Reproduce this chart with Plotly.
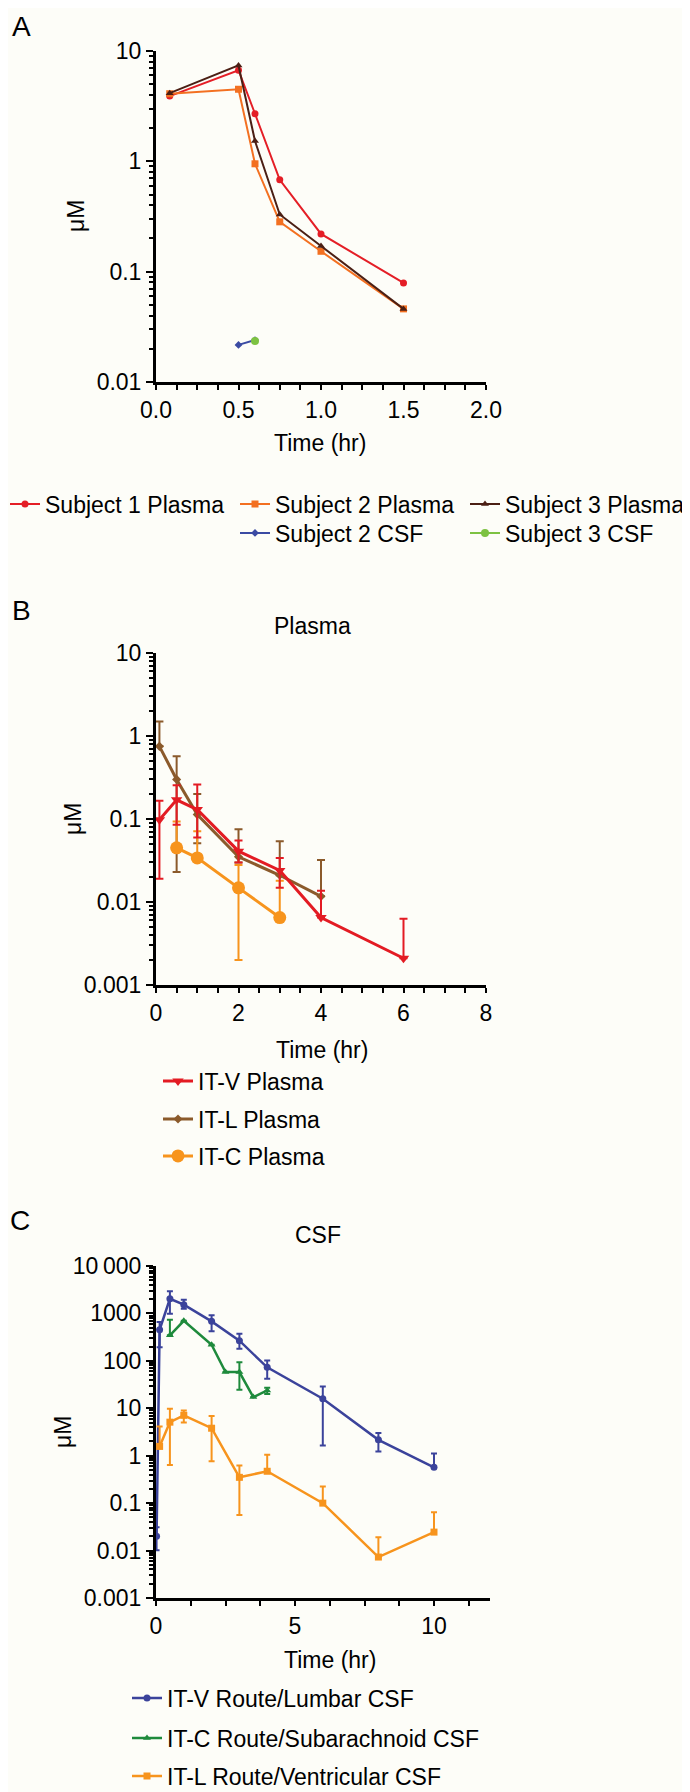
import plotly.graph_objects as go

W, H = 690, 1792
FONT = "Liberation Sans, Arial, Helvetica, sans-serif"
FS = 23

# ---------------- Panel A data ----------------
a_time = [0.083, 0.5, 0.6, 0.75, 1.0, 1.5]
a_s1_plasma = [3.9, 6.7, 2.7, 0.68, 0.22, 0.079]
a_s2_plasma = [4.1, 4.5, 0.95, 0.283, 0.153, 0.046]
a_s3_plasma = [4.15, 7.4, 1.53, 0.33, 0.171, 0.046]
a_s2_csf_time = [0.5, 0.6]
a_s2_csf = [0.0217, 0.024]
a_s3_csf_time = [0.6]
a_s3_csf = [0.0235]
a_xticks = [0, 0.5, 1.0, 1.5, 2.0]
a_xticktext = ["0.0", "0.5", "1.0", "1.5", "2.0"]
a_yticks = [0.01, 0.1, 1, 10]
a_yticktext = ["0.01", "0.1", "1", "10"]

# ---------------- Panel B data ----------------
b_itv_t = [0.083, 0.5, 1, 2, 3, 4, 6]
b_itv = [0.098, 0.17, 0.13, 0.041, 0.024, 0.0065, 0.0021]
b_itv_hi = [0.166, 0.255, 0.26, 0.055, 0.034, 0.0137, 0.0063]
b_itv_lo = [0.019, 0.085, 0.06, 0.03, 0.0148, None, None]
b_itl_t = [0.083, 0.5, 1, 2, 3, 4]
b_itl = [0.75, 0.30, 0.113, 0.035, 0.021, 0.0117]
b_itl_hi = [1.5, 0.57, 0.2, 0.075, 0.054, 0.032]
b_itl_lo = [None, 0.023, 0.051, 0.03, None, None]
b_itc_t = [0.5, 1, 2, 3]
b_itc = [0.045, 0.034, 0.0148, 0.0065]
b_itc_hi = [0.093, 0.071, 0.028, 0.018]
b_itc_lo = [None, None, 0.002, None]
b_xticks = [0, 2, 4, 6, 8]
b_yticks = [0.001, 0.01, 0.1, 1, 10]
b_yticktext = ["0.001", "0.01", "0.1", "1", "10"]

# ---------------- Panel C data ----------------
c_itv_t = [0.02, 0.13, 0.5, 1, 2, 3, 4, 6, 8, 10]
c_itv = [0.02, 453, 2040, 1530, 680, 266, 73, 15.9, 2.16, 0.57]
c_itv_hi = [0.031, 660, 2930, 1950, 910, 373, 102, 28.8, 3.0, 1.12]
c_itv_lo = [0.0102, 193, 980, 1260, 420, 180, 42, 1.65, 1.23, None]
c_itc_t = [0.5, 1, 2, 2.5, 3, 3.5, 4]
c_itc = [345, 700, 218, 58, 58, 17.2, 23.8]
c_itc_hi = [740, None, None, None, 94, None, 27]
c_itc_lo = [None, None, None, None, 24.6, None, 20]
c_itl_t = [0.13, 0.5, 1, 2, 3, 4, 6, 8, 10]
c_itl = [1.57, 5.1, 7.1, 3.8, 0.35, 0.47, 0.1, 0.0073, 0.0245]
c_itl_hi = [4.15, 9.8, 9.0, 6.9, 0.62, 1.05, 0.225, 0.019, 0.064]
c_itl_lo = [None, 0.64, 5.0, 0.76, 0.056, None, None, None, None]
c_xticks = [0, 5, 10]
c_yticks = [0.001, 0.01, 0.1, 1, 10, 100, 1000, 10000]
c_yticktext = ["0.001", "0.01", "0.1", "1", "10", "100", "1000", "10\u2009000"]


def px(x):
    return x / W


def py(y):
    return 1 - y / H


def err(vals, hi, lo):
    plus = [(h - v) if h is not None else 0 for v, h in zip(vals, hi)]
    minus = [(v - l) if l is not None else 0 for v, l in zip(vals, lo)]
    return plus, minus


fig = go.Figure()
legends = {}
leg_count = [0]


def add(x, y, name, color, symbol, size, lw, xa, ya, leg_xy, hi=None, lo=None, capw=4):
    leg_count[0] += 1
    lname = "legend" if leg_count[0] == 1 else "legend%d" % leg_count[0]
    legends[lname] = leg_xy
    kw = {}
    if hi is not None:
        plus, minus = err(y, hi, lo)
        kw["error_y"] = dict(type="data", symmetric=False, array=plus, arrayminus=minus,
                             color=color, thickness=2, width=capw)
    fig.add_trace(go.Scatter(
        x=x, y=y, name=name, mode="lines+markers",
        line=dict(color=color, width=lw),
        marker=dict(color=color, symbol=symbol, size=size, line=dict(width=0)),
        xaxis=xa, yaxis=ya, legend=lname, cliponaxis=False, **kw))


# Panel A traces (legend text start x, legend row centre y)
add(a_time, a_s1_plasma, "Subject 1 Plasma", "#e41e26", "circle", 7, 2, "x", "y", (44, 505))
add(a_time, a_s2_plasma, "Subject 2 Plasma", "#f37021", "square", 7, 2, "x", "y", (274, 505))
add(a_time, a_s3_plasma, "Subject 3 Plasma", "#4b1f14", "triangle-up", 7, 2, "x", "y", (504, 505))
add(a_s2_csf_time, a_s2_csf, "Subject 2 CSF", "#3b4ba3", "diamond", 6, 2, "x", "y", (274, 534))
add(a_s3_csf_time, a_s3_csf, "Subject 3 CSF", "#7dc242", "circle", 8, 2, "x", "y", (504, 534))

# Panel B traces
add(b_itl_t, b_itl, "IT-L Plasma", "#8b5a2b", "diamond", 7, 3, "x2", "y2", (197, 1120), b_itl_hi, b_itl_lo)
add(b_itc_t, b_itc, "IT-C Plasma", "#f7941d", "circle", 13, 3, "x2", "y2", (197, 1157), b_itc_hi, b_itc_lo)
add(b_itv_t, b_itv, "IT-V Plasma", "#e31b23", "triangle-down", 10, 3, "x2", "y2", (197, 1082), b_itv_hi, b_itv_lo)

# Panel C traces
add(c_itv_t, c_itv, "IT-V Route/Lumbar CSF", "#3b439b", "circle", 7, 2.5, "x3", "y3", (166, 1699), c_itv_hi, c_itv_lo, 3)
add(c_itc_t, c_itc, "IT-C Route/Subarachnoid CSF", "#1e8a3c", "triangle-up", 7, 2.5, "x3", "y3", (166, 1739), c_itc_hi, c_itc_lo, 3)
add(c_itl_t, c_itl, "IT-L Route/Ventricular CSF", "#f7941d", "square", 7, 2.5, "x3", "y3", (166, 1777), c_itl_hi, c_itl_lo, 3)


def log_minor(lo, hi):
    return [m * 10 ** e for e in range(lo, hi) for m in range(2, 10)]


axis_common = dict(showline=True, linewidth=3, linecolor="black", ticks="outside",
                   tickwidth=2, tickcolor="black", showgrid=False, zeroline=False,
                   automargin=False, tickfont=dict(size=FS, color="black", family=FONT),
                   fixedrange=True)


def xaxis(dom, rng, tickvals, ticktext, minor_dtick, anchor):
    return dict(axis_common, domain=[px(dom[0]), px(dom[1])], range=rng, tickmode="array",
                tickvals=tickvals, ticktext=ticktext, ticklen=5, anchor=anchor,
                minor=dict(dtick=minor_dtick, ticks="outside", ticklen=5, tickwidth=2,
                           tickcolor="black", showgrid=False))


def yaxis(dom, lo, hi, tickvals, ticktext, anchor):
    return dict(axis_common, type="log", domain=[py(dom[1]), py(dom[0])], range=[lo, hi],
                tickmode="array", tickvals=tickvals, ticktext=ticktext, ticklen=7,
                anchor=anchor,
                minor=dict(tickmode="array", tickvals=log_minor(lo, hi), ticks="outside",
                           ticklen=4, tickwidth=2, tickcolor="black", showgrid=False))


leg_common = dict(font=dict(size=FS, color="black", family=FONT), bgcolor="rgba(0,0,0,0)",
                  itemwidth=30, orientation="v", xanchor="left", yanchor="middle",
                  itemclick=False, itemdoubleclick=False)

# legend box centre sits ~9 px above the text centre
legend_layout = {name: dict(leg_common, x=px(xy[0] - 47), y=py(xy[1] - 9))
                 for name, xy in legends.items()}

annotations = []


def text(x, y, s, size=FS, angle=0):
    annotations.append(dict(x=px(x), y=py(y), xref="paper", yref="paper", text=s,
                            showarrow=False, xanchor="center", yanchor="middle",
                            textangle=angle, font=dict(size=size, color="black", family=FONT)))


text(13, 18, "A", 28)
text(312, 435, "Time (hr)")
text(68, 208, "\u03bcM", angle=-90)
text(13, 602, "B", 28)
text(304, 618, "Plasma")
text(314, 1042, "Time (hr)")
text(65, 811, "\u03bcM", angle=-90)
text(12, 1212, "C", 28)
text(310, 1227, "CSF")
text(322, 1652, "Time (hr)")
text(55, 1424, "\u03bcM", angle=-90)

fig.update_layout(
    width=W, height=H, margin=dict(l=0, r=0, t=0, b=0, autoexpand=False),
    paper_bgcolor="#fdfdf8", plot_bgcolor="#fdfdf8",
    font=dict(family=FONT, size=FS, color="black"),
    xaxis=xaxis([148, 478], [0, 2], a_xticks, a_xticktext, 0.125, "y"),
    yaxis=yaxis([43, 374], -2, 1, a_yticks, a_yticktext, "x"),
    xaxis2=xaxis([148, 478], [0, 8], b_xticks, [str(v) for v in b_xticks], 0.5, "y2"),
    yaxis2=yaxis([645, 977], -3, 1, b_yticks, b_yticktext, "x2"),
    xaxis3=xaxis([148, 481.6], [0, 12], c_xticks, [str(v) for v in c_xticks], 1.25, "y3"),
    yaxis3=yaxis([1258, 1590], -3, 4, c_yticks, c_yticktext, "x3"),
    annotations=annotations,
    showlegend=True,
    **legend_layout,
)

fig.write_html("out.html")
